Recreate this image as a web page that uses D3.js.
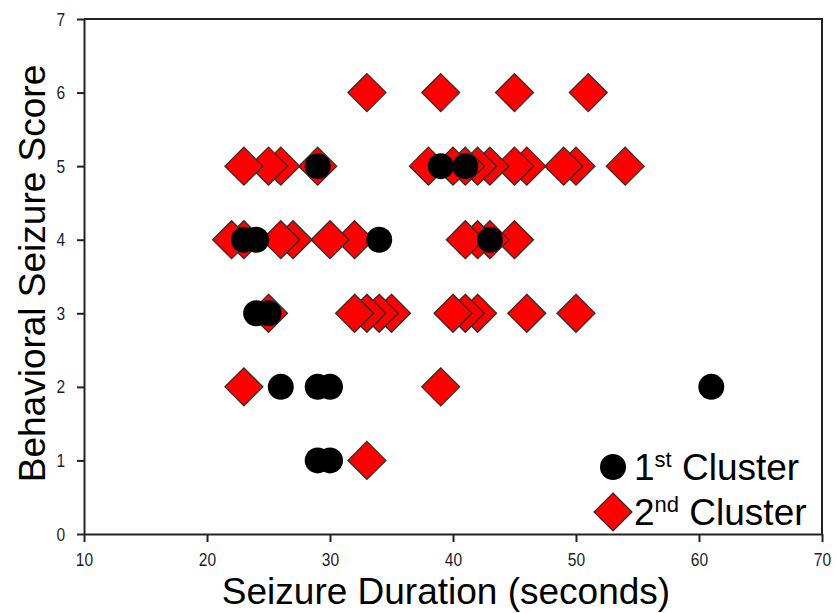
<!DOCTYPE html>
<html>
<head>
<meta charset="utf-8">
<script src="https://cdn.jsdelivr.net/npm/d3@7"></script>
<style>
  body { margin: 0; background: #fff; }
  .axis path, .axis line { stroke: #222; stroke-width: 2; }
  .title { font-family: "Liberation Sans", Arial, sans-serif; font-size: 37px; fill: #000; }
</style>
</head>
<body>
<svg id="chart"></svg>
<script>
// 1st cluster (black circles)
const firstDuration = [29, 39, 41, 23, 24, 34, 43, 24, 25, 26, 29, 30, 61, 29, 30];
const firstScore    = [5, 5, 5, 4, 4, 4, 4, 3, 3, 2, 2, 2, 2, 1, 1];

// 2nd cluster (red diamonds)
const secondDuration = [33, 39, 45, 51,
  23, 25, 26, 29, 38, 40, 41, 42, 43, 45, 46, 49, 50, 54,
  22, 23, 26, 27, 30, 32, 41, 42, 43, 45,
  25, 32, 33, 34, 35, 40, 41, 42, 46, 50,
  23, 39,
  33];
const secondScore = [6, 6, 6, 6,
  5, 5, 5, 5, 5, 5, 5, 5, 5, 5, 5, 5, 5, 5,
  4, 4, 4, 4, 4, 4, 4, 4, 4, 4,
  3, 3, 3, 3, 3, 3, 3, 3, 3, 3,
  2, 2,
  1];

const xTicks = [10, 20, 30, 40, 50, 60, 70];
const yTicks = [0, 1, 2, 3, 4, 5, 6, 7];
const legendItems = [
  {num: "1", sup: "st", label: " Cluster", shape: "circle"},
  {num: "2", sup: "nd", label: " Cluster", shape: "diamond"}
];

const width = 837, height = 613;
const margin = {top: 19, right: 15, bottom: 79, left: 84};

const svg = d3.select("#chart").attr("width", width).attr("height", height);

const x = d3.scaleLinear().domain([10, 70]).range([margin.left, width - margin.right]);
const y = d3.scaleLinear().domain([0, 7]).range([height - margin.bottom, margin.top]);

// frame (top and right)
svg.append("path")
  .attr("d", `M${x(10)},${y(7)}H${x(70)}V${y(0)}`)
  .attr("fill", "none").attr("stroke", "#222").attr("stroke-width", 2);

const xAxis = d3.axisBottom(x).tickValues(xTicks).tickFormat(d3.format("d"))
  .tickSize(8).tickSizeOuter(0).tickPadding(11);
const yAxis = d3.axisLeft(y).tickValues(yTicks).tickFormat(d3.format("d"))
  .tickSize(7).tickSizeOuter(0).tickPadding(16);

// narrow digits, like the original's condensed face
function styleTicks(g) {
  g.attr("font-size", null).attr("font-family", null);
  g.selectAll("text")
    .style("font-family", "'Liberation Sans', Arial, sans-serif")
    .style("font-size", "19px")
    .style("fill", "#1c1c2c")
    .attr("transform", "scale(0.82,1)");
}

svg.append("g").attr("class", "axis")
  .attr("transform", `translate(0,${y(0)})`).call(xAxis).call(styleTicks);
svg.append("g").attr("class", "axis")
  .attr("transform", `translate(${x(10)},0)`).call(yAxis).call(styleTicks);

const r = 19;
const diamond = `M0,${-r}L${r},0L0,${r}L${-r},0Z`;

const second = secondDuration.map((d, i) => ({dur: d, score: secondScore[i]}));
const first = firstDuration.map((d, i) => ({dur: d, score: firstScore[i]}));

svg.append("g").selectAll("path")
  .data(second.slice().reverse())
  .join("path")
  .attr("d", diamond)
  .attr("transform", d => `translate(${x(d.dur)},${y(d.score)})`)
  .attr("fill", "#ff0000")
  .attr("stroke", "#2b2b2b")
  .attr("stroke-width", 1.2);

svg.append("g").selectAll("circle")
  .data(first)
  .join("circle")
  .attr("cx", d => x(d.dur))
  .attr("cy", d => y(d.score))
  .attr("r", 13)
  .attr("fill", "#000");

// axis titles
svg.append("text").attr("class", "title")
  .attr("x", 446).attr("y", 604)
  .attr("text-anchor", "middle")
  .text("Seizure Duration (seconds)");

svg.append("text").attr("class", "title")
  .attr("transform", `translate(45,${(y(0) + y(7)) / 2 - 3}) rotate(-90)`)
  .attr("text-anchor", "middle")
  .text("Behavioral Seizure Score");

// legend
const legend = svg.append("g").attr("transform", "translate(613,467)");
const item = legend.selectAll("g").data(legendItems).join("g")
  .attr("transform", (d, i) => `translate(0,${i * 45})`);

item.filter(d => d.shape === "circle").append("circle")
  .attr("r", 13).attr("fill", "#000");
item.filter(d => d.shape === "diamond").append("path")
  .attr("d", diamond).attr("fill", "#ff0000")
  .attr("stroke", "#2b2b2b").attr("stroke-width", 1.2);

const lt = item.append("text").attr("class", "title")
  .attr("x", 21).attr("y", 13);
lt.append("tspan").text(d => d.num);
lt.append("tspan").attr("dy", -13).style("font-size", "22px").text(d => d.sup);
lt.append("tspan").attr("dy", 13).text(d => d.label);
</script>
</body>
</html>
